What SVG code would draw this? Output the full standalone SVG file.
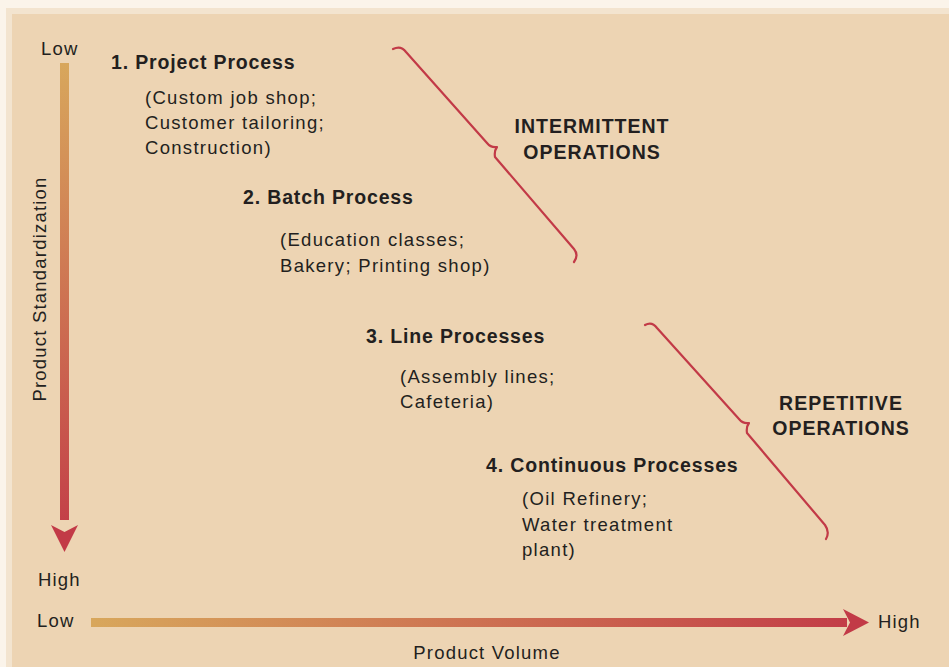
<svg xmlns="http://www.w3.org/2000/svg" width="949" height="667" viewBox="0 0 949 667">
<defs>
<linearGradient id="gv" x1="0" y1="63" x2="0" y2="552" gradientUnits="userSpaceOnUse">
<stop offset="0" stop-color="#d8a75c"/><stop offset="1" stop-color="#c23a47"/>
</linearGradient>
<linearGradient id="gh" x1="91" y1="0" x2="869" y2="0" gradientUnits="userSpaceOnUse">
<stop offset="0" stop-color="#d8a75c"/><stop offset="1" stop-color="#c23a47"/>
</linearGradient>
<style>
text{font-family:"Liberation Sans",Arial,sans-serif;fill:#231f20}
.t{font-size:19.5px;font-weight:bold;letter-spacing:0.85px}
.d{font-size:18.5px;letter-spacing:1.3px}
.a{font-size:18.5px;letter-spacing:1.2px}
.g{font-size:19.5px;font-weight:bold;letter-spacing:1px;text-anchor:middle}
.br{fill:none;stroke:#c23a47;stroke-width:2.2;stroke-linecap:round;stroke-linejoin:round}
</style>
</defs>
<rect x="0" y="0" width="949" height="667" fill="#fbf4ea"/>
<rect x="6" y="8" width="943" height="659" fill="#f3e4cf"/>
<rect x="12" y="14" width="937" height="653" fill="#edd4b3"/>

<g id="axis-standardization">
<rect x="60" y="63" width="9" height="457" fill="url(#gv)"/>
<path d="M51,525 L64.5,552 L78,525 L64.5,532 Z" fill="#c23a47"/>
<text class="a" x="41" y="55">Low</text>
<text class="a" x="38" y="586">High</text>
<text class="a" transform="translate(46,289) rotate(-90)" text-anchor="middle">Product Standardization</text>
</g>

<g id="axis-volume">
<rect x="91" y="618" width="756" height="9" fill="url(#gh)"/>
<path d="M843,609 L869,622.5 L843,636 L850,622.5 Z" fill="#c23a47"/>
<text class="a" x="37" y="627">Low</text>
<text class="a" x="878" y="628">High</text>
<text class="a" x="487" y="659" text-anchor="middle">Product Volume</text>
</g>

<g id="project">
<text class="t" x="111" y="69">1. Project Process</text>
<text class="d" x="145" y="104">(Custom job shop;</text>
<text class="d" x="145" y="129">Customer tailoring;</text>
<text class="d" x="145" y="154">Construction)</text>
</g>

<g id="batch">
<text class="t" x="243" y="204">2. Batch Process</text>
<text class="d" x="280" y="246">(Education classes;</text>
<text class="d" x="280" y="272">Bakery; Printing shop)</text>
</g>

<g id="line">
<text class="t" x="366" y="343">3. Line Processes</text>
<text class="d" x="400" y="383">(Assembly lines;</text>
<text class="d" x="400" y="408">Cafeteria)</text>
</g>

<g id="continuous">
<text class="t" x="486" y="472">4. Continuous Processes</text>
<text class="d" x="522" y="505">(Oil Refinery;</text>
<text class="d" x="522" y="531">Water treatment</text>
<text class="d" x="522" y="556">plant)</text>
</g>

<g id="intermittent">
<text class="g" x="592" y="133">INTERMITTENT</text>
<text class="g" x="592" y="159">OPERATIONS</text>
</g>

<g id="repetitive">
<text class="g" x="841" y="410">REPETITIVE</text>
<text class="g" x="841" y="435">OPERATIONS</text>
</g>

<g id="connectors">
<path class="br" d="M393,49 Q401,45 406,52 L487,143 Q491,148 497,147 Q494,151 495,157 L574,249 Q579,255 574,262"/>
<path class="br" d="M645,325 Q652,321 657,328 L739,419 Q743,424 749,423 Q746,427 747,433 L825,525 Q830,532 826,539"/>
</g>
</svg>
